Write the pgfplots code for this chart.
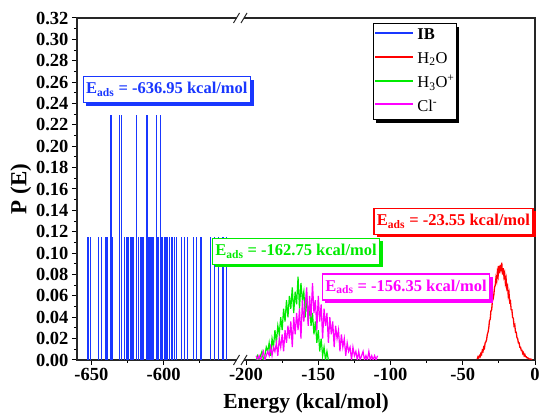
\documentclass[border=0pt]{standalone}
\usepackage{fontspec}
\setmainfont{Liberation Serif}
\usepackage{pgfplots}
\pgfplotsset{compat=1.18}
\usetikzlibrary{shadows}
\definecolor{ibblue}{RGB}{25,55,255}
\definecolor{h2ored}{RGB}{255,0,0}
\definecolor{h3ogreen}{RGB}{0,235,0}
\definecolor{clmag}{RGB}{255,0,255}
\tikzset{annot/.style={draw=#1, text=#1, fill=white, line width=1.2pt,
  font=\bfseries\fontsize{16.5}{18}\selectfont, inner xsep=3pt, inner ysep=3pt, minimum height=26pt,
  drop shadow={shadow xshift=3pt, shadow yshift=-3pt, fill=#1, opacity=1}}}
\begin{document}
\begin{tikzpicture}
\path[use as bounding box] (-77pt,-57pt) rectangle (473pt,360pt);
\begin{axis}[
  at={(0,0)}, anchor=south west,
  scale only axis, width=458pt, height=342pt,
  xmin=-317, xmax=0, ymin=0, ymax=0.32,
  clip mode=individual,
  axis line style={line width=1.2pt, black!85},
  xtick={-307,-257,-200,-150,-100,-50,0},
  xticklabels={-650,-600,-200,-150,-100,-50,0},
  minor xtick={-282,-232,-175,-125,-75,-25},
  ytick={0,0.02,0.04,0.06,0.08,0.10,0.12,0.14,0.16,0.18,0.20,0.22,0.24,0.26,0.28,0.30,0.32},
  minor ytick={0.01,0.03,0.05,0.07,0.09,0.11,0.13,0.15,0.17,0.19,0.21,0.23,0.25,0.27,0.29,0.31},
  tick align=outside, xtick pos=bottom, ytick pos=left,
  major tick length=5pt, minor tick length=3pt,
  tick style={line width=1pt, black},
  yticklabel style={/pgf/number format/.cd,fixed,fixed zerofill,precision=2,assume math mode=true},
  ticklabel style={font=\bfseries\fontsize{18.5}{21}\selectfont},
  xlabel={Energy (kcal/mol)}, ylabel={P (E)},
  xlabel style={font=\bfseries\fontsize{21.5}{24}\selectfont, yshift=-6pt},
  ylabel style={font=\bfseries\fontsize{23}{26}\selectfont, yshift=-2pt},
]
% IB
\addplot[ibblue, line width=1.4pt, ycomb] table[x expr=\thisrowno{0}+343, y index=1] {
-652.5 0.115
-650.7 0.115
-645.0 0.115
-643.1 0.115
-639.8 0.115
-639.1 0.115
-635.5 0.115
-627.0 0.115
-625.3 0.115
-624.2 0.115
-623.0 0.115
-621.9 0.115
-620.7 0.115
-617.3 0.115
-616.1 0.115
-615.0 0.115
-613.9 0.115
-610.3 0.115
-609.1 0.115
-608.0 0.115
-606.9 0.115
-604.0 0.115
-601.9 0.115
-600.8 0.115
-599.6 0.115
-598.5 0.115
-597.3 0.115
-596.1 0.115
-594.2 0.115
-592.4 0.115
-591.2 0.115
-587.7 0.115
-585.6 0.115
-583.4 0.115
-579.2 0.115
-577.3 0.115
-574.1 0.115
-567.6 0.115
-565.0 0.115
-562.0 0.115
-559.0 0.115
-556.5 0.115
-636.4 0.229
-630.6 0.229
-629.0 0.229
-619.0 0.229
-611.5 0.229
-605.0 0.229
-602.2 0.229
};
% H2O
\addplot[h2ored, line width=1.3pt] table {
-40 0.001
-39.5 0.003
-39 0.002
-38.5 0.004
-38 0.003
-37.5 0.006
-37 0.005
-36.5 0.009
-36 0.008
-35.5 0.012
-35 0.011
-34.5 0.016
-34 0.017
-33.5 0.019
-33 0.024
-32.5 0.026
-32 0.030
-31.5 0.037
-31 0.038
-30.5 0.046
-30 0.047
-29.5 0.055
-29 0.057
-28.5 0.061
-28 0.068
-27.5 0.070
-27 0.077
-26.5 0.074
-26 0.083
-25.5 0.079
-25 0.088
-24.5 0.081
-24 0.089
-23.5 0.083
-23 0.091
-22.5 0.080
-22 0.086
-21.5 0.078
-21 0.081
-20.5 0.072
-20 0.076
-19.5 0.067
-19 0.069
-18.5 0.060
-18 0.063
-17.5 0.054
-17 0.055
-16.5 0.047
-16 0.047
-15.5 0.040
-15 0.039
-14.5 0.032
-14 0.033
-13.5 0.026
-13 0.026
-12.5 0.021
-12 0.020
-11.5 0.016
-11 0.016
-10.5 0.012
-10 0.012
-9.5 0.009
-9 0.009
-8.5 0.006
-8 0.007
-7.5 0.004
-7 0.005
-6.5 0.003
-6 0.003
-5.5 0.002
-5 0.002
-4 0.001
-3 0.001
-2 0
};
% H3O+
\addplot[h3ogreen, line width=1.2pt] table {
-193 0
-192 0.004
-191 0
-190 0.004
-189 0.008
-188 0
-187 0.004
-186 0.012
-185 0.008
-184 0.016
-183 0.004
-182 0.020
-181 0.012
-180 0.028
-179 0.016
-178 0.032
-177 0.024
-176 0.040
-175 0.028
-174 0.048
-173 0.036
-172 0.056
-171 0.040
-170 0.060
-169 0.048
-168 0.068
-167 0.044
-166 0.064
-165 0.052
-164 0.078
-163 0.048
-162 0.072
-161 0.056
-160 0.064
-159 0.040
-158 0.060
-157 0.036
-156 0.052
-155 0.032
-154 0.044
-153 0.024
-152 0.036
-151 0.016
-150 0.028
-149 0.008
-148 0.020
-147 0.004
-146 0.012
-145 0
-144 0.008
-143 0
};
% Cl-
\addplot[clmag, line width=1.2pt] table {
-193 0.004
-192 0
-191 0.004
-190 0
-189 0.004
-188 0.008
-187 0
-186 0.004
-185 0.008
-184 0.004
-183 0.012
-182 0.004
-181 0.012
-180 0.008
-179 0.016
-178 0.004
-177 0.020
-176 0.012
-175 0.024
-174 0.008
-173 0.028
-172 0.016
-171 0.032
-170 0.020
-169 0.036
-168 0.012
-167 0.040
-166 0.024
-165 0.044
-164 0.028
-163 0.048
-162 0.020
-161 0.056
-160 0.036
-159 0.052
-158 0.068
-157 0.032
-156 0.060
-155 0.040
-154 0.072
-153 0.044
-152 0.056
-151 0.028
-150 0.060
-149 0.036
-148 0.052
-147 0.020
-146 0.048
-145 0.032
-144 0.044
-143 0.016
-142 0.040
-141 0.024
-140 0.036
-139 0.012
-138 0.032
-137 0.020
-136 0.028
-135 0.008
-134 0.024
-133 0.012
-132 0.020
-131 0.004
-130 0.016
-129 0.008
-128 0.012
-127 0
-126 0.012
-125 0.004
-124 0.008
-123 0
-122 0.008
-121 0
-120 0.004
-119 0.008
-118 0
-117 0.004
-116 0
-115 0.008
-114 0
-113 0.004
-112 0
-111 0.004
-110 0
-109 0.004
};
\node[annot=ibblue] at (axis cs:-254.8,0.253) {E\textsubscript{ads} = -636.95 kcal/mol};
\node[annot=h3ogreen] at (axis cs:-165.4,0.1016) {E\textsubscript{ads} = -162.75 kcal/mol};
\node[annot=clmag] at (axis cs:-89.3,0.0683) {E\textsubscript{ads} = -156.35 kcal/mol};
\node[annot=h2ored] at (axis cs:-56.4,0.1296) {E\textsubscript{ads} = -23.55 kcal/mol};
\node[draw=black, line width=1pt, fill=white, anchor=north west, inner xsep=2pt, inner ysep=3pt,
  font=\fontsize{16.5}{18}\selectfont,
  drop shadow={shadow xshift=3pt, shadow yshift=-3pt, fill=black, opacity=1}]
  at (rel axis cs:0.646,0.985) {%
  \begin{tabular}{@{}l@{\hspace{4pt}}l@{}}
  \hspace{38pt} & \textbf{IB}\\[6pt]
  \hspace{38pt} & H\textsubscript{2}O\\[6pt]
  \hspace{38pt} & H\textsubscript{3}O\textsuperscript{+}\\[6pt]
  \hspace{38pt} & Cl\textsuperscript{-}
  \end{tabular}};
\draw[ibblue, line width=1.5pt] (rel axis cs:0.6507,0.9561) -- (rel axis cs:0.7336,0.9561);
\draw[h2ored, line width=1.5pt] (rel axis cs:0.6507,0.8860) -- (rel axis cs:0.7336,0.8860);
\draw[h3ogreen, line width=1.5pt] (rel axis cs:0.6507,0.8158) -- (rel axis cs:0.7336,0.8158);
\draw[clmag, line width=1.5pt] (rel axis cs:0.6507,0.7485) -- (rel axis cs:0.7336,0.7485);
\coordinate (bb) at (axis cs:-204,0);
\coordinate (bt) at (axis cs:-204,0.32);
\end{axis}
\foreach \c in {bb,bt}{
  \fill[white, shift={(\c)}] (-3.75pt,-1.5pt) rectangle (3.75pt,1.5pt);
  \draw[line width=1pt, black!85, shift={(\c)}] (-6.75pt,-5pt) -- (-0.75pt,5pt) (0.75pt,-5pt) -- (6.75pt,5pt);
}
\end{tikzpicture}
\end{document}
